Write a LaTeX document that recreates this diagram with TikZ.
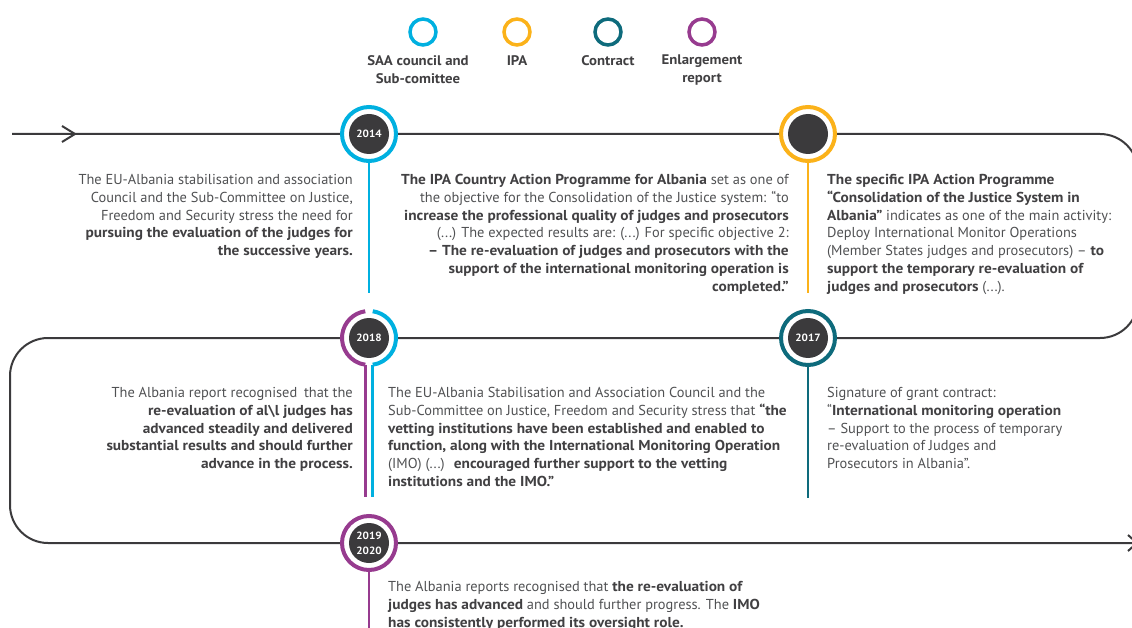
\documentclass[tikz,border=0pt]{standalone}
\usepackage{fontspec}
\setmainfont{PT Sans}[BoldFeatures={FakeStretch=1.065}]
\usetikzlibrary{backgrounds}

% palette
\definecolor{saa}{HTML}{00B0E0}
\definecolor{ipa}{HTML}{FBB21A}
\definecolor{contract}{HTML}{0E6B7C}
\definecolor{report}{HTML}{973B8F}
\definecolor{disc}{HTML}{3B3A3C}
\definecolor{ink}{HTML}{414042}
\definecolor{body}{HTML}{505153}

\newcommand{\hl}[1]{{\bfseries\color{ink}#1}}

\tikzset{
  track/.style={draw=disc, line width=2pt},
  year/.style={circle, draw=#1, line width=4pt, fill=white, minimum size=54pt, inner sep=0pt,
    path picture={\fill[disc] (path picture bounding box.center) circle (20pt);},
    text=white, font=\fontsize{10.5}{15}\selectfont\bfseries, align=center},
  stem/.style={draw=#1, line width=2.6pt},
  key/.style={circle, draw=#1, line width=3.5pt, minimum size=26pt, inner sep=0pt},
  keytext/.style={font=\fontsize{13.9}{18}\selectfont\bfseries, text=ink, align=center, anchor=north, inner sep=0pt},
  note/.style={font=\fontsize{14.4}{17.8}\selectfont, text=body, inner sep=0pt},
}

\begin{document}
\begin{tikzpicture}[x=1pt,y=-1pt]
\useasboundingbox (0,0) rectangle (1132,628);

% legend
\node[key=saa] (ksaa) at (423,32) {};
\node[key=ipa] (kipa) at (517,32) {};
\node[key=contract] (kcontract) at (608,32) {};
\node[key=report] (kreport) at (702,32) {};
\node[keytext] (lsaa) at (418,55) {SAA council and\\Sub-comittee};
\node[keytext] (lipa) at (517,55) {IPA};
\node[keytext] (lcontract) at (608,55) {Contract};
\node[keytext] (lreport) at (702,55) {Enlargement\\report};

% milestones
\node[year=saa] (y2014) at (369,134) {2014};
\node[year=ipa] (yipa) at (808,134) {};
\node[year=contract] (y2017) at (808,338) {2017};
\node[year=white] (y2018) at (369,338) {2018};
\node[year=report] (y2019) at (369,543) {2019\\2020};

\coordinate (start) at (12,134);
\coordinate (end) at (1136,543);

% the long line behind the milestones
\begin{scope}[on background layer]
\draw[track, rounded corners=38pt] (start) -- (y2014.center) -- (yipa.center) -- (1138,134)
  -- (1138,338) -- (y2017.center) -- (y2018.center) -- (10,338) -- (10,543)
  -- (y2019.center) -- (end);
\end{scope}
\draw[track] (62,126) -- (75,134) -- (62,142);
\draw[track] (1128,535) -- (1137,543) -- (1128,551);

% 2018 is shared: half report, half council (y axis points down here)
\draw[report, line width=4pt] (y2018.center) ++(98:27) arc[start angle=98, end angle=262, radius=27];
\draw[saa, line width=4pt] (y2018.center) ++(82:27) arc[start angle=82, end angle=-82, radius=27];

% stems
\coordinate (s2014) at (369,293);
\coordinate (sipa) at (808,293);
\coordinate (s2017) at (808,498);
\coordinate (s2018) at (369,497);
\coordinate (s2019) at (369,628);
\draw[stem=saa] (y2014) -- (s2014);
\draw[stem=ipa] (yipa) -- (sipa);
\draw[stem=contract] (y2017) -- (s2017);
\draw[stem=report] (y2019) -- (s2019);
\path (y2018.center) ++(98:27) coordinate (p2018);
\path (y2018.center) ++(82:27) coordinate (c2018);
\draw[stem=report] (p2018) -- (p2018 |- s2018);
\draw[stem=saa] (c2018) -- (c2018 |- s2018);

% notes
\node[note, anchor=north east, align=right] (n2014a) at (353,174) {%
The EU-Albania stabilisation and association\\
Council and the Sub-Committee on Justice,\\
Freedom and Security stress the need for\\
\hl{pursuing the evaluation of the judges for}\\
\hl{the successive years.}};

\node[note, anchor=north east, align=right] (n2014b) at (789,174) {%
\hl{The IPA Country Action Programme for Albania} set as one of\\
the objective for the Consolidation of the Justice system: “to\\
\hl{increase the professional quality of judges and prosecutors}\\
(...) The expected results are: (...) For specific objective 2:\\
\hl{– The re-evaluation of judges and prosecutors with the}\\
\hl{support of the international monitoring operation is}\\
\hl{completed.”}};

\node[note, anchor=north west, align=left] (nipa) at (827,174) {%
\hl{The specific IPA Action Programme}\\
\hl{“Consolidation of the Justice System in}\\
\hl{Albania”} indicates as one of the main activity:\\
Deploy International Monitor Operations\\
(Member States judges and prosecutors) – \hl{to}\\
\hl{support the temporary re-evaluation of}\\
\hl{judges and prosecutors} (...).};

\node[note, anchor=north east, align=right] (n2018a) at (353,387) {%
The Albania report recognised\hspace{3pt} that the\\
\hl{re-evaluation of al\textbackslash l judges has}\\
\hl{advanced steadily and delivered}\\
\hl{substantial results and should further}\\
\hl{advance in the process.}};

\node[note, anchor=north west, align=left] (n2018b) at (388,387) {%
The EU-Albania Stabilisation and Association Council and the\\
Sub-Committee on Justice, Freedom and Security stress that \hl{“the}\\
\hl{vetting institutions have been established and enabled to}\\
\hl{function, along with the International Monitoring Operation}\\
(IMO) (...)\hspace{4pt} \hl{encouraged further support to the vetting}\\
\hl{institutions and the IMO.”}};

\node[note, anchor=north west, align=left] (n2017) at (827,387) {%
Signature of grant contract:\\
“\hl{International monitoring operation}\\
– Support to the process of temporary\\
re-evaluation of Judges and\\
Prosecutors in Albania”.};

\node[note, anchor=north west, align=left] (n2019) at (388,581) {%
The Albania reports recognised that \hl{the re-evaluation of}\\
\hl{judges has advanced} and should further progress. The \hl{IMO}\\
\hl{has consistently performed its oversight role.}};
\end{tikzpicture}
\end{document}
